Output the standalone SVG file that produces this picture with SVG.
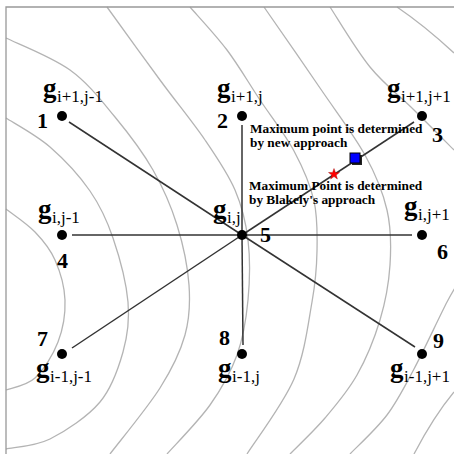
<svg xmlns="http://www.w3.org/2000/svg" width="454" height="454" viewBox="0 0 454 454">
<style>
.c{fill:none;stroke:#b4b4b4;stroke-width:1.3}
.e{stroke:#333;stroke-width:1.5}
.g{font-family:"Liberation Serif",serif;font-weight:bold;font-size:27px;fill:#000}
.s{font-family:"Liberation Serif",serif;font-size:17px;fill:#000}
.n{font-family:"Liberation Serif",serif;font-weight:bold;font-size:22px;fill:#000}
.t{font-family:"Liberation Serif",serif;font-weight:bold;font-size:13.3px;fill:#000}
</style>
<rect width="454" height="454" fill="#fff"/>
<g id="contours">
<path class="c" d="M6,209 C10.8,212.8 26.8,223.5 35,232 C43.2,240.5 50,248.7 55,260 C60,271.3 64.5,286.3 65,300 C65.5,313.7 63,329 58,342 C53,355 43.7,370 35,378 C26.3,386 10.8,388 6,390"/>
<path class="c" d="M6,118 C13.3,122.8 36,134.8 50,147 C64,159.2 79.5,175.8 90,191 C100.5,206.2 106.7,219.5 113,238 C119.3,256.5 126.3,283 128,302 C129.7,321 127.7,335.3 123,352 C118.3,368.7 112.2,387.5 100,402 C87.8,416.5 65.7,431.2 50,439 C34.3,446.8 13.3,447.3 6,449"/>
<path class="c" d="M6,38 C16.7,43.3 51.8,56.8 70,70 C88.2,83.2 101.2,100.3 115,117 C128.8,133.7 142.7,152 153,170 C163.3,188 171,205.8 177,225 C183,244.2 187.7,266.7 189,285 C190.3,303.3 189.8,317.8 185,335 C180.2,352.2 172.5,368.2 160,388 C147.5,407.8 118.3,443 110,454"/>
<path class="c" d="M107,7 C115.8,19.2 143.7,57.8 160,80 C176.3,102.2 192.5,121.7 205,140 C217.5,158.3 227.8,173.3 235,190 C242.2,206.7 245.8,221.7 248,240 C250.2,258.3 249.8,280.8 248,300 C246.2,319.2 243.3,337.5 237,355 C230.7,372.5 221.7,388.5 210,405 C198.3,421.5 174.2,445.8 167,454"/>
<path class="c" d="M190,7 C196.2,14.2 215.3,34.5 227,50 C238.7,65.5 248.8,83.2 260,100 C271.2,116.8 285,134.2 294,151 C303,167.8 310.2,184.3 314,201 C317.8,217.7 317.3,234.2 317,251 C316.7,267.8 315.8,280.7 312,302 C308.2,323.3 304.8,353.7 294,379 C283.2,404.3 254.8,441.5 247,454"/>
<path class="c" d="M264,7 C273.3,20.5 303.2,63.3 320,88 C336.8,112.7 353.8,134.7 365,155 C376.2,175.3 382.8,191.7 387,210 C391.2,228.3 391.2,246.7 390,265 C388.8,283.3 385.5,301.7 380,320 C374.5,338.3 366.2,358.7 357,375 C347.8,391.3 336.2,404.8 325,418 C313.8,431.2 295.8,448 290,454"/>
<path class="c" d="M330,7 C336.7,17 356,49.8 370,67 C384,84.2 400,96.2 414,110 C428,123.8 447.3,143.3 454,150"/>
<path class="c" d="M460,280 C457.8,283.7 454.7,287.2 447,302 C439.3,316.8 424,350.2 414,369 C404,387.8 397.7,400.8 387,415 C376.3,429.2 356.2,447.5 350,454"/>
<path class="c" d="M397,7 Q425,26 454,53"/>
<path class="c" d="M454,392 Q434,416 414,454"/>
</g>
<g id="frame">
<polyline points="6,454 6,7 454,7" fill="none" stroke="#999" stroke-width="1.3"/>
</g>
<g id="connectors">
<line class="e" x1="242" y1="235" x2="69" y2="122"/>
<line class="e" x1="242" y1="235" x2="242" y2="125"/>
<line class="e" x1="242" y1="235" x2="414" y2="122"/>
<line class="e" x1="242" y1="235" x2="72" y2="235"/>
<line class="e" x1="242" y1="235" x2="412" y2="235"/>
<line class="e" x1="242" y1="235" x2="72" y2="348"/>
<line class="e" x1="242" y1="235" x2="243" y2="345"/>
<line class="e" x1="242" y1="235" x2="415" y2="347"/>
</g>
<g id="n1"><circle cx="62" cy="116" r="5"/><text class="n" x="37" y="128">1</text><text class="g" x="43" y="97">g</text><text class="s" x="57" y="102">i+1,j-1</text></g>
<g id="n2"><circle cx="242" cy="116" r="5"/><text class="n" x="217" y="128">2</text><text class="g" x="217" y="97">g</text><text class="s" x="231" y="102">i+1,j</text></g>
<g id="n3"><circle cx="422" cy="116" r="5"/><text class="n" x="432" y="142">3</text><text class="g" x="387" y="97">g</text><text class="s" x="401" y="102">i+1,j+1</text></g>
<g id="n4"><circle cx="62" cy="235" r="5"/><text class="n" x="57" y="268">4</text><text class="g" x="38" y="218">g</text><text class="s" x="52" y="223">i,j-1</text></g>
<g id="n5"><circle cx="242" cy="235" r="5"/><text class="n" x="260" y="242">5</text><text class="g" x="213" y="218">g</text><text class="s" x="227" y="223">i,j</text></g>
<g id="n6"><circle cx="422" cy="235" r="5"/><text class="n" x="437" y="259">6</text><text class="g" x="404" y="215">g</text><text class="s" x="418" y="220">i,j+1</text></g>
<g id="n7"><circle cx="62" cy="354" r="5"/><text class="n" x="37" y="346">7</text><text class="g" x="36" y="377">g</text><text class="s" x="50" y="382">i-1,j-1</text></g>
<g id="n8"><circle cx="242" cy="354" r="5"/><text class="n" x="219" y="345">8</text><text class="g" x="218" y="377">g</text><text class="s" x="232" y="382">i-1,j</text></g>
<g id="n9"><circle cx="422" cy="354" r="5"/><text class="n" x="433" y="348">9</text><text class="g" x="390" y="377">g</text><text class="s" x="404" y="382">i-1,j+1</text></g>
<g id="new-max">
<rect x="352" y="155" width="10" height="10" fill="#222"/>
<rect x="350" y="153" width="10" height="10" fill="#0000ff" stroke="#000" stroke-width="1"/>
<text class="t" x="250" y="133">Maximum point is determined</text>
<text class="t" x="250" y="147">by new approach</text>
</g>
<g id="blakely-max">
<polygon points="334,168.5 335.4,172.4 339.5,172.5 336.2,175 337.4,179 334,176.6 330.6,179 331.8,175 328.5,172.5 332.6,172.4" fill="#ff0000" stroke="#900" stroke-width="0.4"/>
<text class="t" x="249" y="190">Maximum Point is determined</text>
<text class="t" x="249" y="204">by Blakely's approach</text>
</g>
</svg>
